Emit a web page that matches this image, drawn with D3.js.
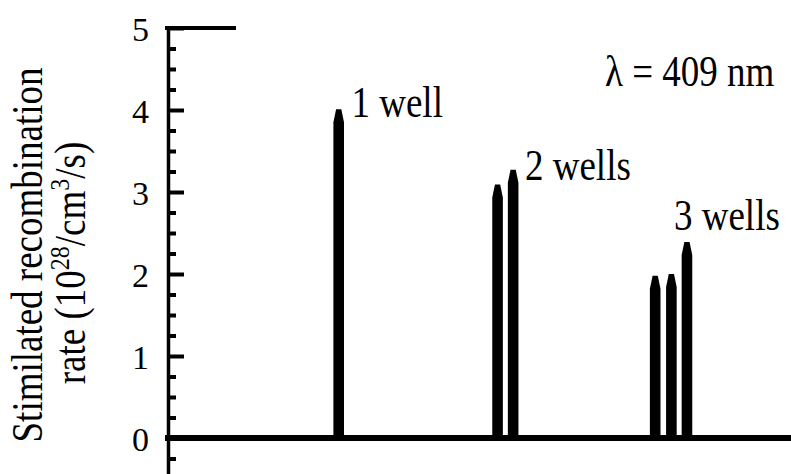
<!DOCTYPE html>
<html>
<head>
<meta charset="utf-8">
<script src="https://cdn.jsdelivr.net/npm/d3@7"></script>
<style>
  body { margin: 0; background: #fff; }
</style>
</head>
<body>
<div id="chart"></div>
<script>
// peaks: which group, position along x (arb. units), rate (10^28 /cm^3/s)
const groupLabels = ["1 well", "2 wells", "3 wells"]
const peakGroup = [0, 1, 1, 2, 2, 2]
const peakPos = [27.4, 52.9, 55.4, 78.2, 80.8, 83.3]
const peakRate = [4.01, 3.09, 3.27, 1.98, 2.00, 2.39]
const yTicks = [0, 1, 2, 3, 4, 5]
const yMinorTicks = [-0.25, 0.25, 0.5, 0.75, 1.25, 1.5, 1.75, 2.25, 2.5, 2.75,
                     3.25, 3.5, 3.75, 4.25, 4.5, 4.75]
const lambdaLabel = "\u03bb = 409 nm"

const width = 791, height = 474
const axisX = 168
const stretch = 1.17  // glyphs in the source are a bit taller than wide
const serif = "Liberation Serif"

const svg = d3.select("#chart").append("svg")
    .attr("width", width)
    .attr("height", height)

const x = d3.scaleLinear().domain([0, 100]).range([axisX, 791])
const y = d3.scaleLinear().domain([-0.5, 5]).range([479, 28])

// tick labels
const labelAxis = svg.append("g")
    .attr("transform", `translate(${axisX},0)`)
    .call(d3.axisLeft(y).tickValues(yTicks).tickSize(0).tickPadding(19).tickFormat(d3.format("d")))
labelAxis.select(".domain").remove()
labelAxis.selectAll("text")
    .style("font-family", serif)
    .style("font-size", "34px")
    .attr("fill", "#000")
    .attr("dy", "0.36em")

// major ticks (inward) + axis line
const majorAxis = svg.append("g")
    .attr("transform", `translate(${axisX},0)`)
    .call(d3.axisRight(y).tickValues(yTicks).tickSize(16).tickSizeOuter(0).tickFormat(""))
majorAxis.select(".domain").attr("stroke", "#000").attr("stroke-width", 3.5)
majorAxis.selectAll(".tick line").attr("stroke", "#000").attr("stroke-width", 4)

const minorAxis = svg.append("g")
    .attr("transform", `translate(${axisX},0)`)
    .call(d3.axisRight(y).tickValues(yMinorTicks).tickSize(8).tickSizeOuter(0).tickFormat(""))
minorAxis.select(".domain").remove()
minorAxis.selectAll(".tick line").attr("stroke", "#000").attr("stroke-width", 4)

// short top line at 5
svg.append("line")
    .attr("x1", axisX - 3).attr("x2", 236)
    .attr("y1", y(5)).attr("y2", y(5))
    .attr("stroke", "#000").attr("stroke-width", 4)

// zero line
svg.append("line")
    .attr("x1", axisX - 3).attr("x2", width)
    .attr("y1", y(0)).attr("y2", y(0))
    .attr("stroke", "#000").attr("stroke-width", 6)

// peaks
const halfW = 5.3, tipHalf = 2.6, taper = 13
svg.selectAll("path.peak")
    .data(peakPos.map((p, i) => ({pos: p, rate: peakRate[i], group: peakGroup[i]})))
    .enter()
    .append("path")
    .attr("class", "peak")
    .attr("fill", "#000")
    .attr("d", d => {
        const cx = x(d.pos), yt = y(d.rate), yb = y(0)
        return `M${cx - halfW},${yb}L${cx - halfW},${yt + taper}L${cx - tipHalf},${yt}` +
            `L${cx + tipHalf},${yt}L${cx + halfW},${yt + taper}L${cx + halfW},${yb}Z`
    })

function addText(tx, ty, rot) {
    return svg.append("text")
        .attr("transform", `translate(${tx},${ty})${rot ? " rotate(-90)" : ""} scale(1,${stretch})`)
        .style("font-family", serif)
        .style("font-size", "37px")
        .attr("fill", "#000")
}

// group labels
const groupLabelAt = [[351.5, 116.5], [525, 180], [674, 230]]
groupLabels.forEach((g, i) => addText(groupLabelAt[i][0], groupLabelAt[i][1]).text(g))

addText(605, 86).text(lambdaLabel)

// y title
addText(42, 255, true).attr("text-anchor", "middle").text("Stimilated recombination")

const t2 = addText(85, 263, true).attr("text-anchor", "middle")
t2.append("tspan").text("rate (10")
t2.append("tspan").style("font-size", "24px").attr("dy", -14).text("28")
t2.append("tspan").attr("dy", 14).text("/cm")
t2.append("tspan").style("font-size", "24px").attr("dy", -14).text("3")
t2.append("tspan").attr("dy", 14).text("/s)")
</script>
</body>
</html>
